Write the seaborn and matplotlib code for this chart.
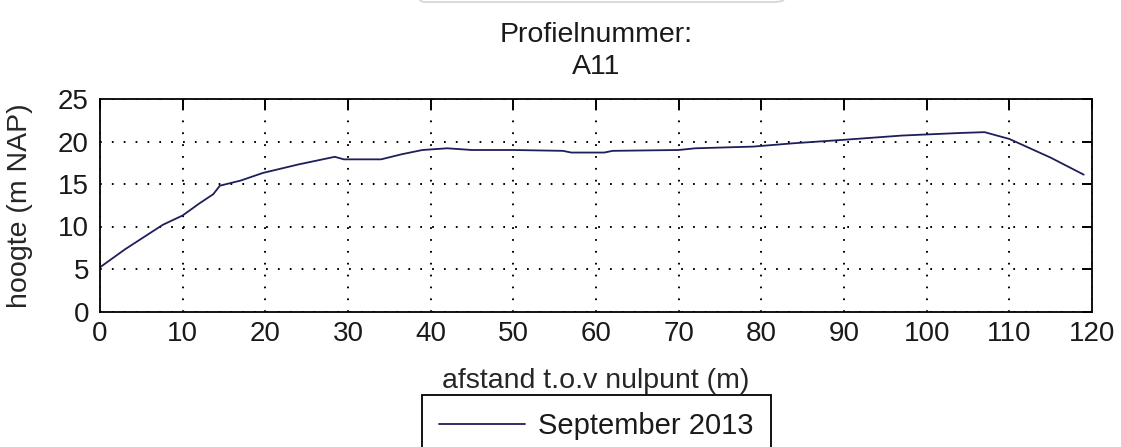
import matplotlib
matplotlib.use("Agg")
import matplotlib.pyplot as plt
from matplotlib.lines import Line2D
from matplotlib.patches import FancyBboxPatch
import pandas as pd
import seaborn as sns

# Cross-section profile A11, measured September 2013
afstand = [0, 3, 7.6, 10, 12, 13.7, 14.5, 17, 19.7, 24, 28.4, 29.5, 34, 36.5,
           39, 42, 45, 50, 56, 57, 61, 62, 70, 72, 79, 84, 90, 97, 104, 107,
           110, 115, 119]
hoogte = [5.2, 7.3, 10.2, 11.3, 12.7, 13.8, 14.8, 15.4, 16.3, 17.3, 18.2,
          17.9, 17.9, 18.5, 19.0, 19.2, 19.0, 19.0, 18.9, 18.7, 18.7, 18.9,
          19.0, 19.2, 19.4, 19.8, 20.2, 20.7, 21.0, 21.1, 20.3, 18.1, 16.1]
reeks = "September 2013"
x_ticks = list(range(0, 121, 10))
y_ticks = list(range(0, 26, 5))

df = pd.DataFrame({"afstand": afstand, "hoogte": hoogte})

sns.set_theme(style="white")
plt.rcParams["font.family"] = ["Liberation Sans", "DejaVu Sans"]
plt.rcParams["text.color"] = "#1a1a1a"

W, H = 1121, 447
fig = plt.figure(figsize=(W / 100, H / 100), dpi=100)
fig.patch.set_facecolor("white")
ax = fig.add_axes([100 / W, 1 - 311.5 / H, (1092 - 100) / W, (311.5 - 99) / H])

sns.lineplot(data=df, x="afstand", y="hoogte", ax=ax, color="#1e1e5a",
             linewidth=1.3, label=reeks, legend=False)

ax.set_xlim(0, 120)
ax.set_ylim(0, 25)
ax.set_xticks(x_ticks)
ax.set_yticks(y_ticks)

ax.grid(True, color="black", linestyle=(0, (0.9, 5.2)), linewidth=1.4)
for s in ax.spines.values():
    s.set_visible(True)
    s.set_color("black")
    s.set_linewidth(1.3)

ax.tick_params(direction="in", length=7, width=1.4, top=True, right=True,
               colors="black", labelcolor="#1a1a1a", labelsize=20)
ax.tick_params(axis="x", pad=7)
ax.tick_params(axis="y", pad=8)

ax.set_xlabel("afstand t.o.v nulpunt (m)", fontsize=20.5, labelpad=15)
ax.set_ylabel("hoogte (m NAP)", fontsize=20.5, labelpad=18)
ax.set_title("Profielnummer:\nA11", fontsize=20.5, pad=18, linespacing=1.28)

# legend box below the axes
handles = [Line2D([], [], color="#1e1e5a", linewidth=1.3),
           Line2D([], [], color="none")]
leg = fig.legend(handles, [reeks, " "], loc="upper left",
                 bbox_to_anchor=(421.7 / W, 1 - 395 / H),
                 bbox_transform=fig.transFigure, borderaxespad=0,
                 fontsize=21, frameon=True, fancybox=False, framealpha=1,
                 edgecolor="black", borderpad=0.6, handlelength=2.95,
                 handletextpad=0.45, labelspacing=0.3)
leg.get_frame().set_linewidth(1.3)

# faint rounded frame at the top edge
fig.patches.append(FancyBboxPatch((413 / W, 1 - 2 / H), (785 - 413) / W, 0.1,
                                  boxstyle="round,pad=0,rounding_size=0.01",
                                  transform=fig.transFigure, fc="none",
                                  ec="#d4d4d4", lw=1.2, clip_on=False))

fig.savefig("out.png", dpi=100, facecolor="white")
